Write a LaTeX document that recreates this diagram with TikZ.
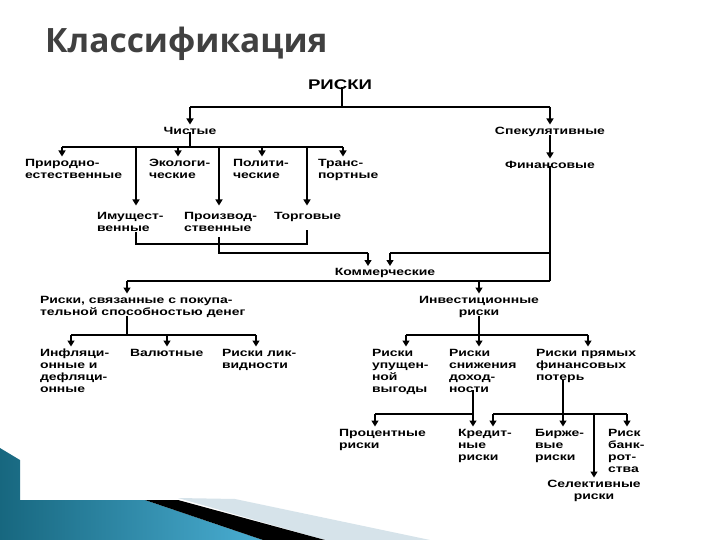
\documentclass[tikz,border=0pt]{standalone}
\usepackage{fontspec}
\setmainfont{Liberation Sans}
\newfontfamily\dg[FakeStretch=1.33]{Liberation Sans}
\newfontfamily\ttl{Open Sans}
\usetikzlibrary{arrows.meta}
\definecolor{ttlgray}{HTML}{404040}
\definecolor{tealA}{HTML}{17677F}
\definecolor{tealB}{HTML}{4AAED3}
\definecolor{paleB}{HTML}{D6E3EA}
\tikzset{
  lbl/.style={inner sep=0pt, outer sep=0pt, anchor=north west, align=left,
    font=\dg\bfseries\fontsize{10.5}{12}\selectfont},
  ln/.style={line width=1.4pt},
  arr/.style={ln, -{Triangle[width=7pt,length=6pt]}, shorten >=2.5pt},
  arrl/.style={arr, shorten >=7pt},
}
\begin{document}
\begin{tikzpicture}[x=1pt,y=-1pt]
\useasboundingbox (0,0) rectangle (720,540);
\fill[white] (0,0) rectangle (720,540);
% decoration
\shade[left color=tealA, right color=tealB] (0,448) -- (20,460) -- (20,500) -- (145,500) -- (263,540) -- (0,540) -- cycle;
\fill[paleB] (178,498) -- (235,499) -- (430,540) -- (325,540) -- cycle;
\fill[black] (145,500) -- (178,500) -- (325,540) -- (263,540) -- cycle;
% title
\node[inner sep=0pt, anchor=base west, text=ttlgray, font=\ttl\bfseries\fontsize{33.5}{40}\selectfont] (title) at (45,53) {Классификация};
% nodes
\node[lbl,anchor=north,font=\dg\bfseries\fontsize{14}{16}\selectfont] (riski) at (340,79.5) {РИСКИ};
\node[lbl,anchor=north] (chist) at (190,127) {Чистые};
\node[lbl,anchor=north] (spek) at (550,127) {Спекулятивные};
\node[lbl,anchor=north] (fin) at (550,161) {Финансовые};
\node[lbl] (prir) at (25,159) {Природно-\\естественные};
\node[lbl] (ekol) at (149,159) {Экологи-\\ческие};
\node[lbl] (polit) at (233,159) {Полити-\\ческие};
\node[lbl] (trans) at (318,159) {Транс-\\портные};
\node[lbl] (imu) at (97,212.5) {Имущест-\\венные};
\node[lbl] (proizv) at (184,212.5) {Производ-\\ственные};
\node[lbl] (torg) at (274,212.5) {Торговые};
\node[lbl,anchor=north] (komm) at (385,268.5) {Коммерческие};
\node[lbl] (pok) at (40,296) {Риски, связанные с покупа-\\тельной способностью денег};
\node[lbl,anchor=north,align=center] (inv) at (479,296) {Инвестиционные\\риски};
\node[lbl] (infl) at (40,349) {Инфляци-\\онные и\\дефляци-\\онные};
\node[lbl] (val) at (130,349) {Валютные};
\node[lbl] (likv) at (222,349) {Риски лик-\\видности};
\node[lbl] (upush) at (372,349) {Риски\\упущен-\\ной\\выгоды};
\node[lbl] (sniz) at (449,349) {Риски\\снижения\\доход-\\ности};
\node[lbl] (pryam) at (536,349) {Риски прямых\\финансовых\\потерь};
\node[lbl] (proc) at (339,429) {Процентные\\риски};
\node[lbl] (kred) at (458,429) {Кредит-\\ные\\риски};
\node[lbl] (birzh) at (535,429) {Бирже-\\вые\\риски};
\node[lbl] (bank) at (608,429) {Риск\\банк-\\рот-\\ства};
\node[lbl,anchor=north,align=center] (selek) at (594,480) {Селективные\\риски};
% bus coordinates
\coordinate (r0) at (342,107);
\coordinate (rL) at (190,107);
\coordinate (rR) at (550,107);
\coordinate (c0) at (190,147);
\coordinate (c1) at (62,147);
\coordinate (c2) at (136,147);
\coordinate (c3) at (178,147);
\coordinate (c4) at (219,147);
\coordinate (c5) at (262,147);
\coordinate (c6) at (307,147);
\coordinate (c7) at (343,147);
\coordinate (p1t) at (136,232);
\coordinate (p1) at (136,244);
\coordinate (p2t) at (307,230);
\coordinate (p2) at (307,244);
\coordinate (p3t) at (219,237);
\coordinate (p3) at (219,253);
\coordinate (p4) at (368,253);
\coordinate (f1) at (550,253);
\coordinate (f2) at (390,253);
\coordinate (f3) at (550,281);
\coordinate (k1) at (127,281);
\coordinate (k2) at (479,281);
\coordinate (q0) at (127,335);
\coordinate (q1) at (71,335);
\coordinate (q2) at (167,335);
\coordinate (q3) at (256,335);
\coordinate (i0) at (479,335);
\coordinate (i1) at (406,335);
\coordinate (i2) at (588,335);
\coordinate (s1) at (473,414);
\coordinate (s2) at (375,414);
\coordinate (t0) at (563,414);
\coordinate (t1) at (493,414);
\coordinate (t2) at (594,414);
\coordinate (t3) at (627,414);
% connectors
\draw[ln] ([yshift=2pt]riski.south -| r0) -- (r0);
\draw[ln] (rL) -- (rR);
\draw[arr] (rL) -- (rL |- chist.north);
\draw[arr] (rR) -- (rR |- spek.north);
\draw[arr] ([yshift=2pt]spek.south) -- (fin.north);
\draw[ln] ([yshift=2pt]chist.south) -- (c0);
\draw[ln] (c1) -- (c7);
\draw[arr] (c1) -- (c1 |- prir.north);
\draw[arr] (c3) -- (c3 |- ekol.north);
\draw[arr] (c5) -- (c5 |- polit.north);
\draw[arr] (c7) -- (c7 |- trans.north);
\draw[arrl] (c2) -- (c2 |- imu.north);
\draw[arrl] (c4) -- (c4 |- proizv.north);
\draw[arrl] (c6) -- (c6 |- torg.north);
\draw[ln] (p1t) -- (p1) -- (p2) -- (p2t);
\draw[ln] (p3t) -- (p3) -- (p4);
\draw[arr] (p4) -- (p4 |- komm.north);
\draw[ln] ([yshift=2pt]fin.south) -- (f3);
\draw[ln] (f1) -- (f2);
\draw[arr] (f2) -- (f2 |- komm.north);
\draw[ln] (f3) -- (k1);
\draw[arr] (k1) -- (k1 |- pok.north);
\draw[arr] (k2) -- (k2 |- inv.north);
\draw[ln] ([yshift=1pt]pok.south -| q0) -- (q0);
\draw[ln] (q1) -- (q3);
\draw[arr] (q1) -- (q1 |- infl.north);
\draw[arr] (q2) -- (q2 |- val.north);
\draw[arr] (q3) -- (q3 |- likv.north);
\draw[ln] ([yshift=1pt]inv.south) -- (i0);
\draw[ln] (i1) -- (i2);
\draw[arr] (i1) -- (i1 |- upush.north);
\draw[arr] (i0) -- (i0 |- sniz.north);
\draw[arr] (i2) -- (i2 |- pryam.north);
\draw[arr] ([yshift=2pt]sniz.south -| s1) -- (s1 |- kred.north);
\draw[ln] (s1) -- (s2);
\draw[arr] (s2) -- (s2 |- proc.north);
\draw[arr] ([yshift=2pt]pryam.south -| t0) -- (t0 |- birzh.north);
\draw[ln] (t1) -- (t3);
\draw[arr] (t1) -- (t1 |- kred.north);
\draw[arr] (t3) -- (t3 |- bank.north);
\draw[arr] (t2) -- (t2 |- selek.north);
\end{tikzpicture}
\end{document}
